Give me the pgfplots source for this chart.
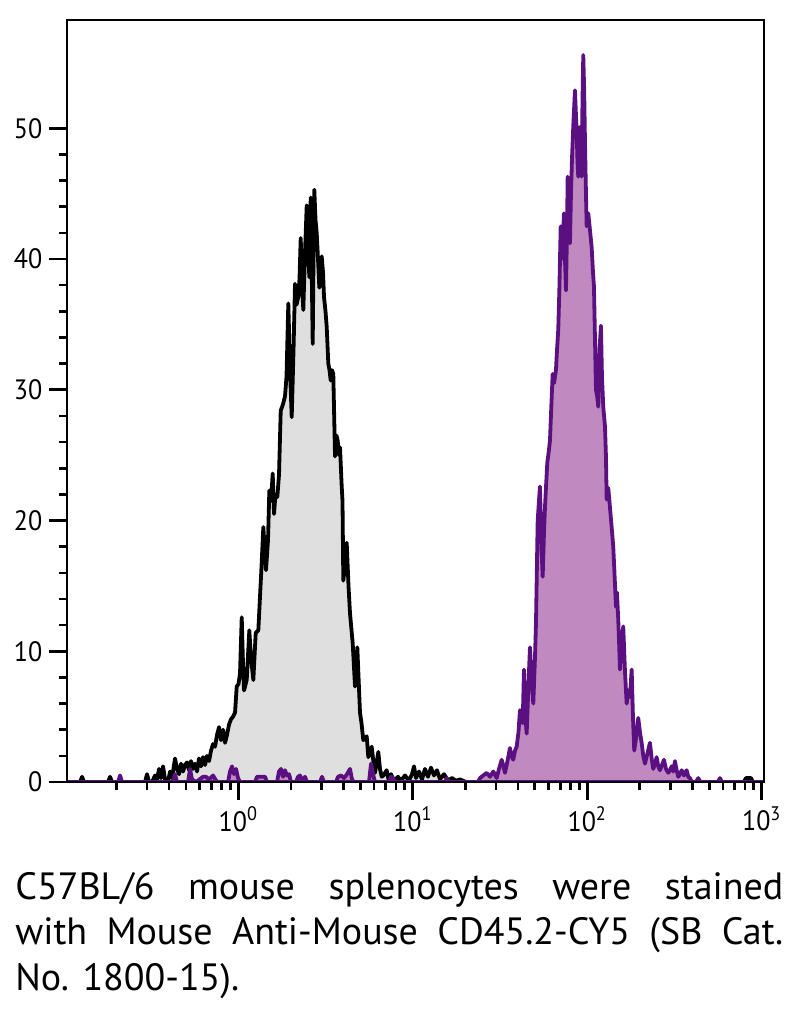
\documentclass[border=0pt]{standalone}
\usepackage{pgfplots}
\pgfplotsset{compat=1.18}
\usepackage{fontspec}
\setmainfont{PT Sans}[FakeStretch=0.93]
\newfontfamily\capfont{PT Sans}
\definecolor{isofill}{RGB}{223,223,223}
\definecolor{purfill}{RGB}{192,138,192}
\definecolor{purline}{RGB}{90,16,128}

\pgfplotstableread{
L y
-0.982 0
-0.9072 0
-0.8957 0.4
-0.8843 0
-0.7467 0
-0.7352 0.4
-0.7238 0
-0.5347 0
-0.5232 0.6
-0.5118 0
-0.4946 0
-0.4774 0.5
-0.4659 0.2
-0.4544 1.0
-0.4430 0.3
-0.4315 1.2
-0.4201 0.2
-0.4029 0
-0.3914 0.8
-0.3799 0.3
-0.3628 1.8
-0.3513 1.0
-0.3398 0.6
-0.3284 1.4
-0.3169 0.8
-0.3054 1.3
-0.2940 1.5
-0.2825 0.9
-0.2711 1.6
-0.2596 1.0
-0.2481 1.4
-0.2367 0.8
-0.2252 1.8
-0.2138 1.2
-0.2023 1.9
-0.1908 1.3
-0.1794 2.0
-0.1679 1.6
-0.1564 2.4
-0.1450 2.9
-0.1335 2.7
-0.1221 3.6
-0.1106 4.2
-0.0991 3.2
-0.0877 4.0
-0.0762 3.0
-0.0648 3.6
-0.0533 4.4
-0.0418 4.8
-0.0304 5.0
-0.0189 5.3
-0.0092 7.3
0.0011 7.5
0.0097 8.3
0.0195 12.6
0.0269 9.0
0.0327 7.0
0.0481 7.8
0.0630 11.6
0.0728 9.5
0.0860 7.8
0.0997 11.4
0.1146 11.6
0.1244 14.2
0.1330 16.5
0.1433 19.5
0.1587 16.2
0.1702 18.5
0.1777 22.3
0.1874 21.5
0.1971 23.6
0.2046 20.5
0.2132 22.0
0.2235 21.8
0.2332 23.5
0.2430 28.4
0.2562 28.9
0.2676 29.5
0.2762 31.0
0.2865 36.6
0.2963 31.5
0.3060 27.9
0.3163 33.0
0.3249 38.1
0.3335 36.5
0.3438 37.1
0.3507 38.5
0.3576 41.6
0.3650 38.0
0.3725 36.1
0.3822 40.5
0.3920 44.1
0.3994 41.0
0.4069 38.6
0.4149 44.7
0.4264 33.5
0.4309 40.0
0.4355 45.3
0.4424 43.0
0.4493 42.0
0.4567 40.0
0.4642 37.8
0.4711 39.5
0.4779 40.2
0.4854 39.0
0.4911 37.1
0.4997 36.0
0.5066 34.8
0.5158 32.0
0.5226 31.5
0.5295 30.7
0.5370 31.5
0.5444 31.2
0.5542 24.9
0.5628 26.5
0.5696 26.1
0.5771 25.0
0.5828 25.6
0.5926 22.6
0.5971 21.5
0.6017 15.4
0.6115 16.5
0.6212 18.3
0.6315 15.0
0.6401 12.9
0.6556 10.6
0.6688 7.3
0.6820 10.3
0.6974 5.3
0.7060 4.5
0.7163 3.2
0.7358 3.5
0.7450 1.9
0.7547 2.2
0.7645 2.7
0.7748 1.5
0.7834 0.7
0.8023 2.3
0.8120 1.0
0.8218 0.4
0.8321 0.5
0.8504 0.9
0.8607 0.2
0.8751 0.6
0.8923 0.1
0.9152 0.4
0.9324 0.1
0.9553 0.5
0.9782 0.1
0.9954 0.6
1.0069 1.2
1.0183 0.3
1.0355 0.8
1.0527 0.2
1.0699 1.0
1.0871 0.4
1.1043 1.1
1.1215 0.5
1.1387 0.9
1.1559 0.2
1.1788 0.6
1.2017 0.1
1.2246 0.3
1.2476 0.1
1.2705 0.2
1.3049 0
1.3278 0
2.8980 0
2.9095 0.3
2.9381 0.3
2.9496 0
3.0126 0
}\isotype

\pgfplotstableread{
L y
-0.982 0
-0.6894 0
-0.6779 0.5
-0.6665 0
-0.3742 0
-0.3628 0.6
-0.3513 0
-0.2883 0
-0.2768 1.0
-0.2653 0.2
-0.2424 0
-0.2023 0.4
-0.1851 0.4
-0.1679 0.2
-0.1450 0.5
-0.1221 0
-0.0590 0
-0.0476 0.8
-0.0361 1.2
-0.0246 0.6
-0.0132 1.0
-0.0017 0.3
0.0097 0
0.0957 0
0.1072 0.4
0.1301 0.4
0.1530 0.4
0.1645 0
0.2218 0
0.2332 0.8
0.2447 1.0
0.2562 0.4
0.2676 0.9
0.2791 0.5
0.2905 0.6
0.3020 0
0.3307 0
0.3421 0.4
0.3536 0.5
0.3650 0.1
0.3822 0.4
0.3937 0
0.4682 0
0.4797 0.4
0.4911 0
0.5599 0
0.5714 0.4
0.5885 0.5
0.6057 0.3
0.6229 0.6
0.6401 1.0
0.6516 0.2
0.6630 0
0.7490 0
0.7605 1.4
0.7719 0.6
0.7834 0
0.8636 0
0.8751 0.4
0.8865 0.3
0.8980 0
1.1845 0
1.1960 0.3
1.2074 0
1.3736 0
1.3851 0.3
1.4040 0.5
1.4235 0.7
1.4424 0.4
1.4613 0.8
1.4808 0.3
1.4940 1.0
1.5095 1.7
1.5198 1.2
1.5284 0.7
1.5427 1.6
1.5570 2.6
1.5656 2.0
1.5759 1.7
1.5857 2.4
1.5954 2.7
1.6057 3.8
1.6143 5.5
1.6229 4.8
1.6298 4.5
1.6373 8.6
1.6458 5.0
1.6527 3.7
1.6630 7.5
1.6716 10.3
1.6802 8.0
1.6906 6.0
1.7003 9.5
1.7060 12.1
1.7158 20.0
1.7232 21.5
1.7289 22.6
1.7375 18.0
1.7444 15.7
1.7519 19.0
1.7576 21.0
1.7633 22.5
1.7708 24.4
1.7794 25.3
1.7862 26.1
1.7948 29.0
1.8017 31.2
1.8092 30.5
1.8206 31.5
1.8264 33.0
1.8338 34.6
1.8407 38.0
1.8476 42.5
1.8550 40.0
1.8608 41.5
1.8665 43.5
1.8722 40.0
1.8780 37.6
1.8837 42.0
1.8877 46.3
1.8951 43.0
1.9009 41.2
1.9066 45.0
1.9123 47.6
1.9209 50.5
1.9295 52.9
1.9353 51.0
1.9393 49.8
1.9439 47.5
1.9484 46.3
1.9542 48.0
1.9582 50.1
1.9639 47.0
1.9679 46.3
1.9725 52.0
1.9771 55.6
1.9822 53.0
1.9868 49.1
1.9926 45.0
1.9966 42.5
2.0057 43.5
2.0155 42.2
2.0252 40.9
2.0327 39.0
2.0384 37.9
2.0441 34.0
2.0499 30.0
2.0568 29.5
2.0631 28.7
2.0699 33.0
2.0785 34.9
2.0843 31.0
2.0917 28.7
2.1015 27.2
2.1072 24.9
2.1112 21.6
2.1203 22.5
2.1301 21.0
2.1398 19.5
2.1490 18.0
2.1559 16.0
2.1645 13.4
2.1702 14.5
2.1777 12.4
2.1828 10.5
2.1874 8.6
2.1971 10.5
2.2063 11.9
2.2160 8.5
2.2258 6.0
2.2350 7.0
2.2447 6.5
2.2545 8.6
2.2619 5.0
2.2693 2.4
2.2808 3.5
2.2923 4.9
2.3020 3.8
2.3117 3.0
2.3209 2.0
2.3307 1.4
2.3450 2.2
2.3593 3.0
2.3691 1.8
2.3782 1.0
2.3880 1.4
2.3977 1.9
2.4069 1.2
2.4166 0.9
2.4281 1.3
2.4396 1.7
2.4510 1.0
2.4642 0.7
2.4739 0.9
2.4837 1.2
2.4928 0.8
2.5026 1.6
2.5123 0.9
2.5215 0.4
2.5312 0.6
2.5410 0.9
2.5542 0.5
2.5696 0.9
2.5788 0.4
2.5885 0.3
2.6000 0
2.6229 0
2.6361 0.3
2.6487 0
2.7490 0
2.7604 0.3
2.7719 0
3.0126 0
}\stained

\begin{document}
\begin{tikzpicture}
\useasboundingbox (-33.5pt,-113.5pt) rectangle (363.5pt,391pt);
\begin{axis}[
  at={(0,0)}, anchor=south west,
  scale only axis, width=348.5pt, height=381pt,
  xmin=-0.982, xmax=3.013, ymin=0, ymax=58.28,
  axis on top,
  axis line style={line width=1.4pt},
  every tick/.style={black, line width=1.3pt},
  tick align=outside, tick pos=left,
  major tick length=8.8pt, minor tick length=3.8pt,
  xtick={0,1,2,3},
  xticklabels={10\textsuperscript{0},10\textsuperscript{1},10\textsuperscript{2},10\textsuperscript{3}},
  minor xtick={-0.699,-0.523,-0.398,-0.301,-0.222,-0.155,-0.097,-0.046,
    0.301,0.477,0.602,0.699,0.778,0.845,0.903,0.954,
    1.301,1.477,1.602,1.699,1.778,1.845,1.903,1.954,
    2.301,2.477,2.602,2.699,2.778,2.845,2.903,2.954},
  ytick={0,10,20,30,40,50},
  minor y tick num=4,
  tick label style={font=\fontsize{14}{16}\selectfont},
  yticklabel style={/pgf/number format/assume math mode=true},
]
\addplot[draw=black, line width=1.9pt, line join=round, fill=isofill] table[x=L,y=y] {\isotype} \closedcycle;
\addplot[draw=purline, line width=1.9pt, line join=round, fill=purfill] table[x=L,y=y] {\stained} \closedcycle;
\end{axis}
\node[anchor=base west, inner sep=0pt] at (-26pt,-58.5pt) {\capfont\fontsize{19}{21}\selectfont\makebox[384pt][s]{C57BL/6 mouse splenocytes were stained}};
\node[anchor=base west, inner sep=0pt] at (-26pt,-81pt) {\capfont\fontsize{19}{21}\selectfont\makebox[384pt][s]{with Mouse Anti-Mouse CD45.2-CY5 (SB Cat.}};
\node[anchor=base west, inner sep=0pt] at (-26pt,-104pt) {\capfont\fontsize{19}{21}\selectfont No. 1800-15).};
\end{tikzpicture}
\end{document}
